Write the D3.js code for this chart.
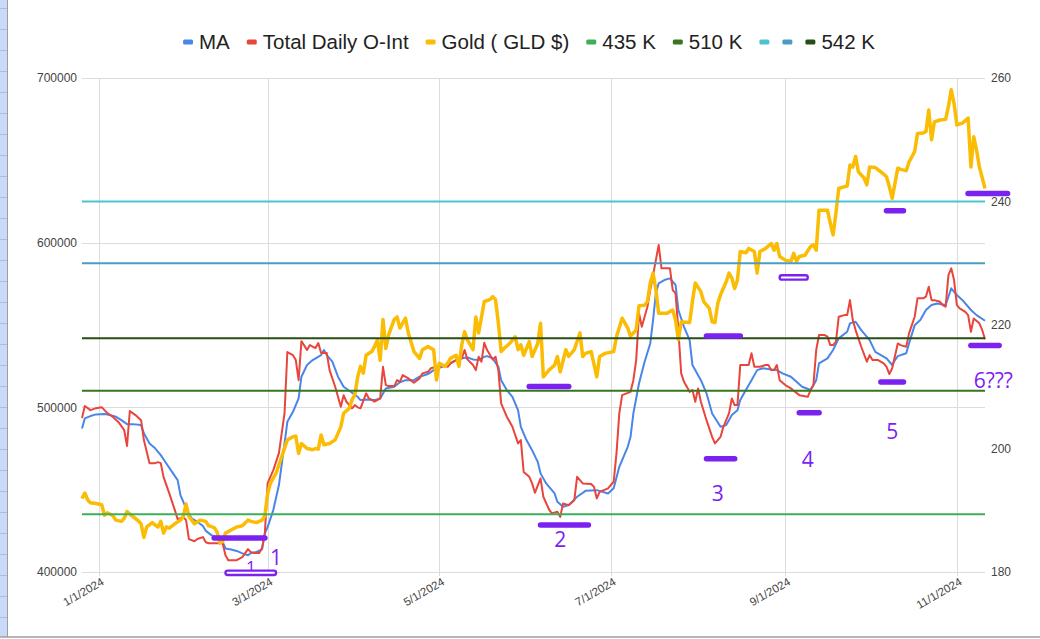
<!DOCTYPE html>
<html>
<head>
<meta charset="utf-8">
<script src="https://cdn.jsdelivr.net/npm/d3@7"></script>
<style>
  body { margin: 0; background: #fff; }
  svg { display: block; }
</style>
</head>
<body>
<div id="wrapper"></div>
<script>
// ---- data ----
const openInterest = [
  ["2023-12-26",493500],["2023-12-27",500800],["2023-12-29",498300],["2023-12-31",499500],
  ["2024-01-02",500100],["2024-01-04",496500],["2024-01-06",494100],["2024-01-08",491000],
  ["2024-01-10",486200],["2024-01-11",476500],["2024-01-12",497700],["2024-01-14",495300],
  ["2024-01-16",492200],["2024-01-17",480100],["2024-01-19",466100],["2024-01-21",466100],
  ["2024-01-22",466700],["2024-01-23",466100],["2024-01-24",457600],["2024-01-26",447900],
  ["2024-01-28",437600],["2024-01-29",432100],["2024-01-31",433300],["2024-02-01",431500],
  ["2024-02-02",420000],["2024-02-04",418700],["2024-02-05",420000],["2024-02-07",421200],
  ["2024-02-08",418100],["2024-02-09",417500],["2024-02-12",417500],["2024-02-14",417500],
  ["2024-02-15",410200],["2024-02-16",407200],["2024-02-19",407200],["2024-02-21",409000],
  ["2024-02-23",413900],["2024-02-24",412100],["2024-02-25",411500],["2024-02-27",411500],
  ["2024-02-28",414500],["2024-02-29",423600],["2024-03-01",454000],["2024-03-03",461900],
  ["2024-03-05",472200],["2024-03-07",496500],["2024-03-08",533600],["2024-03-10",531700],
  ["2024-03-11",528700],["2024-03-12",516500],["2024-03-13",540200],["2024-03-15",534800],
  ["2024-03-16",537800],["2024-03-18",536000],["2024-03-19",539000],["2024-03-20",533000],
  ["2024-03-22",533000],["2024-03-23",522600],["2024-03-25",512500],["2024-03-27",500300],
  ["2024-03-28",507400],["2024-03-29",503400],["2024-03-31",499400],["2024-04-01",501400],
  ["2024-04-02",500000],["2024-04-03",499400],["2024-04-05",508500],["2024-04-06",505400],
  ["2024-04-08",503400],["2024-04-10",505400],["2024-04-11",524600],["2024-04-12",513500],
  ["2024-04-13",512900],["2024-04-15",512900],["2024-04-16",516500],["2024-04-17",515500],
  ["2024-04-18",519600],["2024-04-20",517600],["2024-04-22",514900],["2024-04-24",517600],
  ["2024-04-25",520600],["2024-04-27",521600],["2024-04-28",523700],["2024-04-30",524600],
  ["2024-05-02",525700],["2024-05-04",524600],["2024-05-05",526700],["2024-05-07",528700],
  ["2024-05-09",529700],["2024-05-10",534800],["2024-05-11",529100],["2024-05-13",525700],
  ["2024-05-14",522600],["2024-05-15",530700],["2024-05-16",527700],["2024-05-17",539200],
  ["2024-05-18",534800],["2024-05-20",529100],["2024-05-21",530700],["2024-05-22",522600],
  ["2024-05-23",502400],["2024-05-25",494300],["2024-05-27",488200],["2024-05-29",478100],
  ["2024-05-30",480100],["2024-05-31",460800],["2024-06-02",457800],["2024-06-03",453800],
  ["2024-06-04",448100],["2024-06-06",456800],["2024-06-07",445700],["2024-06-09",438000],
  ["2024-06-10",435600],["2024-06-12",436600],["2024-06-13",433500],["2024-06-14",441600],
  ["2024-06-16",440600],["2024-06-18",443600],["2024-06-19",457800],["2024-06-21",453800],
  ["2024-06-24",453400],["2024-06-25",451700],["2024-06-26",444700],["2024-06-27",448700],
  ["2024-06-30",450800],["2024-07-02",454800],["2024-07-03",472000],["2024-07-04",496300],
  ["2024-07-05",507400],["2024-07-08",509400],["2024-07-09",516500],["2024-07-10",528700],
  ["2024-07-11",557100],["2024-07-12",548900],["2024-07-13",555000],["2024-07-14",561100],
  ["2024-07-15",571200],["2024-07-17",589400],["2024-07-18",598600],["2024-07-19",584400],
  ["2024-07-21",584400],["2024-07-22",584400],["2024-07-23",571200],["2024-07-24",569200],
  ["2024-07-25",546900],["2024-07-26",520600],["2024-07-27",515500],["2024-07-29",509400],
  ["2024-07-30",510500],["2024-07-31",503400],["2024-08-01",511500],["2024-08-02",503400],
  ["2024-08-04",492200],["2024-08-06",482100],["2024-08-07",478100],["2024-08-09",482100],
  ["2024-08-10",488200],["2024-08-12",496300],["2024-08-13",505400],["2024-08-14",501400],
  ["2024-08-15",501400],["2024-08-16",525700],["2024-08-18",525700],["2024-08-19",525700],
  ["2024-08-20",532800],["2024-08-21",524600],["2024-08-23",524600],["2024-08-25",525700],
  ["2024-08-26",525700],["2024-08-27",522600],["2024-08-28",522600],["2024-08-29",525700],
  ["2024-08-30",516500],["2024-09-01",513500],["2024-09-03",511500],["2024-09-04",510100],
  ["2024-09-06",507400],["2024-09-09",506400],["2024-09-10",510500],["2024-09-11",513500],
  ["2024-09-12",534800],["2024-09-13",543900],["2024-09-15",543900],["2024-09-16",542900],
  ["2024-09-17",537800],["2024-09-18",537800],["2024-09-19",539800],["2024-09-20",555000],
  ["2024-09-22",556000],["2024-09-23",556000],["2024-09-24",565100],["2024-09-25",553000],
  ["2024-09-26",546900],["2024-09-28",536800],["2024-09-30",527700],["2024-10-01",531700],
  ["2024-10-02",528700],["2024-10-04",528700],["2024-10-06",526700],["2024-10-07",524600],
  ["2024-10-08",520200],["2024-10-09",523700],["2024-10-11",538800],["2024-10-12",537800],
  ["2024-10-14",536800],["2024-10-15",544900],["2024-10-17",555000],["2024-10-18",566200],
  ["2024-10-20",566200],["2024-10-21",567200],["2024-10-22",573200],["2024-10-23",565100],
  ["2024-10-24",565100],["2024-10-26",564100],["2024-10-27",562100],["2024-10-28",561100],
  ["2024-10-29",580300],["2024-10-30",584400],["2024-10-31",577300],["2024-11-01",562100],
  ["2024-11-02",560100],["2024-11-04",558000],["2024-11-05",556000],["2024-11-06",545900],
  ["2024-11-07",554000],["2024-11-09",551000],["2024-11-10",547000],["2024-11-11",541300]
];

const movingAvg = [
  ["2023-12-26",487200],["2023-12-27",493300],["2023-12-29",494700],["2023-12-31",495700],
  ["2024-01-03",495900],["2024-01-05",495300],["2024-01-07",494300],["2024-01-09",492200],
  ["2024-01-11",489800],["2024-01-13",489800],["2024-01-16",489200],["2024-01-17",484200],
  ["2024-01-19",478100],["2024-01-21",475100],["2024-01-23",471000],["2024-01-25",465900],
  ["2024-01-27",460800],["2024-01-29",455800],["2024-01-30",446700],["2024-02-01",438600],
  ["2024-02-03",432500],["2024-02-05",430500],["2024-02-07",427900],["2024-02-08",425000],
  ["2024-02-10",422400],["2024-02-12",421000],["2024-02-14",418300],["2024-02-15",414300],
  ["2024-02-17",413700],["2024-02-19",412800],["2024-02-21",411300],["2024-02-23",410200],
  ["2024-02-24",411600],["2024-02-26",412200],["2024-02-28",413700],["2024-02-29",423400],
  ["2024-03-01",427400],["2024-03-03",437600],["2024-03-05",452800],["2024-03-07",478100],
  ["2024-03-08",491200],["2024-03-10",497300],["2024-03-12",505400],["2024-03-13",518600],
  ["2024-03-15",525700],["2024-03-17",528700],["2024-03-20",531700],["2024-03-21",534800],
  ["2024-03-22",531700],["2024-03-23",529700],["2024-03-24",527700],["2024-03-26",518600],
  ["2024-03-28",512500],["2024-03-30",510100],["2024-04-02",506400],["2024-04-03",504400],
  ["2024-04-05",504800],["2024-04-08",504400],["2024-04-10",505400],["2024-04-12",511500],
  ["2024-04-15",512500],["2024-04-17",515200],["2024-04-19",516500],["2024-04-22",516500],
  ["2024-04-24",518600],["2024-04-27",520200],["2024-04-29",522600],["2024-05-01",524000],
  ["2024-05-04",525700],["2024-05-06",527700],["2024-05-08",529700],["2024-05-11",530300],
  ["2024-05-13",529100],["2024-05-15",528700],["2024-05-17",530700],["2024-05-18",531100],
  ["2024-05-20",529700],["2024-05-22",524600],["2024-05-23",516500],["2024-05-25",510500],
  ["2024-05-27",506400],["2024-05-29",498300],["2024-05-30",488200],["2024-06-01",480100],
  ["2024-06-03",474000],["2024-06-05",466900],["2024-06-06",459900],["2024-06-08",453800],
  ["2024-06-11",447700],["2024-06-12",442600],["2024-06-14",439600],["2024-06-16",440600],
  ["2024-06-19",445700],["2024-06-22",449300],["2024-06-26",449700],["2024-06-30",447700],
  ["2024-07-02",450800],["2024-07-04",463900],["2024-07-07",476000],["2024-07-08",482100],
  ["2024-07-09",496300],["2024-07-11",514500],["2024-07-13",527700],["2024-07-15",538800],
  ["2024-07-16",553000],["2024-07-17",569200],["2024-07-18",575300],["2024-07-20",577300],
  ["2024-07-22",578300],["2024-07-24",574300],["2024-07-25",559100],["2024-07-27",548900],
  ["2024-07-29",540800],["2024-07-30",525700],["2024-08-02",516500],["2024-08-04",508500],
  ["2024-08-06",496300],["2024-08-09",488200],["2024-08-11",489200],["2024-08-13",495300],
  ["2024-08-15",498300],["2024-08-16",504400],["2024-08-18",510500],["2024-08-20",516500],
  ["2024-08-22",522600],["2024-08-24",523700],["2024-08-27",523000],["2024-08-29",522600],
  ["2024-08-31",520600],["2024-09-03",518600],["2024-09-05",515500],["2024-09-07",512500],
  ["2024-09-10",510500],["2024-09-12",516500],["2024-09-13",526700],["2024-09-16",529700],
  ["2024-09-18",534800],["2024-09-20",541900],["2024-09-23",545900],["2024-09-24",551000],
  ["2024-09-26",552000],["2024-09-28",546900],["2024-10-01",540800],["2024-10-03",533700],
  ["2024-10-05",531700],["2024-10-07",529700],["2024-10-09",525700],["2024-10-10",528700],
  ["2024-10-11",531100],["2024-10-14",532800],["2024-10-15",538800],["2024-10-17",549900],
  ["2024-10-19",553000],["2024-10-21",559100],["2024-10-23",562100],["2024-10-25",563100],
  ["2024-10-28",562100],["2024-10-30",572300],["2024-11-01",568200],["2024-11-03",565100],
  ["2024-11-06",559100],["2024-11-08",556000],["2024-11-11",552600]
];

const goldPrice = [
  ["2023-12-26",191.9],["2023-12-27",192.8],["2023-12-28",191.7],["2023-12-29",191.2],
  ["2023-12-31",191.1],["2024-01-02",190.9],["2024-01-03",189.2],["2024-01-04",189.6],
  ["2024-01-06",189.1],["2024-01-07",188.4],["2024-01-09",188.2],["2024-01-10",188.7],
  ["2024-01-11",189.8],["2024-01-13",189.0],["2024-01-15",188.3],["2024-01-16",187.8],
  ["2024-01-17",185.6],["2024-01-18",187.3],["2024-01-20",188.0],["2024-01-21",187.6],
  ["2024-01-22",187.3],["2024-01-23",188.2],["2024-01-24",186.3],["2024-01-25",187.3],
  ["2024-01-26",187.1],["2024-01-28",187.8],["2024-01-30",188.4],["2024-01-31",189.0],
  ["2024-02-01",191.0],["2024-02-02",189.0],["2024-02-03",188.4],["2024-02-04",187.8],
  ["2024-02-06",188.4],["2024-02-08",188.2],["2024-02-09",187.5],["2024-02-11",187.2],
  ["2024-02-12",186.5],["2024-02-13",184.7],["2024-02-14",184.9],["2024-02-15",186.3],
  ["2024-02-17",186.8],["2024-02-19",187.3],["2024-02-21",187.5],["2024-02-23",188.4],
  ["2024-02-24",188.2],["2024-02-26",188.0],["2024-02-28",188.4],["2024-02-29",189.1],
  ["2024-03-01",192.7],["2024-03-02",194.4],["2024-03-04",196.0],["2024-03-06",198.7],
  ["2024-03-08",201.4],["2024-03-10",201.9],["2024-03-11",202.0],["2024-03-12",199.2],
  ["2024-03-13",200.8],["2024-03-15",200.0],["2024-03-17",199.8],["2024-03-18",200.0],
  ["2024-03-19",199.9],["2024-03-20",202.2],["2024-03-21",200.6],["2024-03-23",200.8],
  ["2024-03-25",201.4],["2024-03-27",203.5],["2024-03-28",205.7],["2024-03-30",206.5],
  ["2024-03-31",207.9],["2024-04-01",208.7],["2024-04-02",211.6],["2024-04-03",213.3],
  ["2024-04-04",212.2],["2024-04-05",215.1],["2024-04-07",215.7],["2024-04-08",216.5],
  ["2024-04-09",217.6],["2024-04-10",214.3],["2024-04-11",220.9],["2024-04-12",216.2],
  ["2024-04-13",218.4],["2024-04-15",220.9],["2024-04-16",221.3],["2024-04-17",219.5],
  ["2024-04-19",221.1],["2024-04-20",218.7],["2024-04-22",215.7],["2024-04-24",214.6],
  ["2024-04-25",216.0],["2024-04-27",216.5],["2024-04-29",216.0],["2024-04-30",211.1],
  ["2024-05-01",213.8],["2024-05-03",213.3],["2024-05-04",213.8],["2024-05-05",214.6],
  ["2024-05-07",215.1],["2024-05-08",213.3],["2024-05-09",216.8],["2024-05-10",218.9],
  ["2024-05-11",217.6],["2024-05-13",216.0],["2024-05-14",221.3],["2024-05-15",218.7],
  ["2024-05-17",223.8],["2024-05-19",224.1],["2024-05-20",224.6],["2024-05-21",224.1],
  ["2024-05-22",220.3],["2024-05-23",215.7],["2024-05-24",216.2],["2024-05-26",217.0],
  ["2024-05-28",218.1],["2024-05-29",216.0],["2024-05-30",216.8],["2024-05-31",215.1],
  ["2024-06-02",217.3],["2024-06-03",214.9],["2024-06-05",217.0],["2024-06-06",220.3],
  ["2024-06-07",211.6],["2024-06-09",212.7],["2024-06-11",213.5],["2024-06-12",214.9],
  ["2024-06-13",212.4],["2024-06-15",216.0],["2024-06-16",214.9],["2024-06-18",216.0],
  ["2024-06-20",218.7],["2024-06-21",214.9],["2024-06-22",215.4],["2024-06-24",215.7],
  ["2024-06-26",211.6],["2024-06-27",214.9],["2024-06-29",215.4],["2024-07-02",215.7],
  ["2024-07-03",218.1],["2024-07-05",221.1],["2024-07-07",219.5],["2024-07-08",218.2],
  ["2024-07-10",219.2],["2024-07-11",223.1],["2024-07-13",223.2],["2024-07-14",223.8],
  ["2024-07-15",226.8],["2024-07-16",228.4],["2024-07-17",225.7],["2024-07-18",221.9],
  ["2024-07-21",221.9],["2024-07-22",222.2],["2024-07-23",222.4],["2024-07-24",220.8],
  ["2024-07-25",217.6],["2024-07-26",220.5],["2024-07-29",220.4],["2024-07-30",223.8],
  ["2024-07-31",226.8],["2024-08-02",225.4],["2024-08-03",223.8],["2024-08-05",222.7],
  ["2024-08-06",220.5],["2024-08-07",220.4],["2024-08-08",223.5],["2024-08-09",224.9],
  ["2024-08-11",227.0],["2024-08-12",228.4],["2024-08-13",227.6],["2024-08-14",225.9],
  ["2024-08-15",227.3],["2024-08-16",231.9],["2024-08-18",231.7],["2024-08-19",232.4],
  ["2024-08-21",231.9],["2024-08-22",228.4],["2024-08-23",231.9],["2024-08-25",232.4],
  ["2024-08-27",233.2],["2024-08-28",232.1],["2024-08-29",233.2],["2024-08-30",231.1],
  ["2024-09-01",230.5],["2024-09-03",230.3],["2024-09-04",231.6],["2024-09-05",230.3],
  ["2024-09-06",231.1],["2024-09-08",231.3],["2024-09-10",232.7],["2024-09-11",233.0],
  ["2024-09-12",232.1],["2024-09-13",238.6],["2024-09-15",238.6],["2024-09-16",238.6],
  ["2024-09-17",236.5],["2024-09-18",234.6],["2024-09-19",238.1],["2024-09-20",242.1],
  ["2024-09-22",242.4],["2024-09-23",242.5],["2024-09-24",245.9],["2024-09-25",245.6],
  ["2024-09-26",247.3],["2024-09-27",244.8],["2024-09-29",243.8],["2024-09-30",242.7],
  ["2024-10-01",245.6],["2024-10-03",245.5],["2024-10-05",244.8],["2024-10-07",244.0],
  ["2024-10-08",242.4],["2024-10-09",240.5],["2024-10-11",245.4],["2024-10-12",245.2],
  ["2024-10-14",245.0],["2024-10-15",246.4],["2024-10-17",248.1],["2024-10-18",251.0],
  ["2024-10-20",251.1],["2024-10-21",251.3],["2024-10-22",254.8],["2024-10-23",250.0],
  ["2024-10-24",252.9],["2024-10-26",253.2],["2024-10-28",253.3],["2024-10-29",255.4],
  ["2024-10-30",258.1],["2024-10-31",255.9],["2024-11-01",252.4],["2024-11-03",252.7],
  ["2024-11-05",253.5],["2024-11-06",245.6],["2024-11-07",250.5],["2024-11-08",248.3],
  ["2024-11-09",245.6],["2024-11-11",242.1]
];

// constant reference series (blank names are blank in the legend too)
const refNames = ["435 K", "510 K", "", "", "542 K"];
const refValues = [435000, 510000, 240, 230, 542000];
const refAxis = ["left", "left", "right", "right", "left"];

const legendNames = ["MA", "Total Daily O-Int", "Gold ( GLD $)", "435 K", "510 K", "", "", "542 K"];

const leftTicks = [400000, 500000, 600000, 700000];
const rightTicks = [180, 200, 220, 240, 260];
const dateTicks = ["2024-01-01", "2024-03-01", "2024-05-01", "2024-07-01", "2024-09-01", "2024-11-01"];
const dateRange = ["2023-12-26", "2024-11-11"];

// hand-drawn purple marks: [from, to, left-axis value, hollow?]
const markBars = [
  ["2024-02-10", "2024-03-01", 420600, false],
  ["2024-02-15", "2024-03-04", 399500, true],
  ["2024-06-01", "2024-06-17", 512600, false],
  ["2024-06-05", "2024-06-24", 428500, false],
  ["2024-08-03", "2024-08-17", 543300, false],
  ["2024-08-03", "2024-08-15", 468700, false],
  ["2024-08-30", "2024-09-09", 578900, true],
  ["2024-09-05", "2024-09-14", 496700, false],
  ["2024-10-06", "2024-10-14", 619400, false],
  ["2024-10-04", "2024-10-14", 515400, false],
  ["2024-11-04", "2024-11-20", 629900, false],
  ["2024-11-05", "2024-11-17", 537500, false]
];
// [date, left-axis value, text, size]
const markNotes = [
  ["2024-02-24", 403000, "1", 17],
  ["2024-03-04", 409000, "1", 21],
  ["2024-06-13", 420000, "2", 21],
  ["2024-08-08", 447900, "3", 21],
  ["2024-09-09", 468600, "4", 21],
  ["2024-10-09", 485600, "5", 21],
  ["2024-11-07", 516500, "6???", 21]
];

const colors = {
  ma: "#4a86e8",
  oi: "#e8453c",
  gold: "#fbbc04",
  refs: ["#3fae5a", "#38761d", "#4dc3d1", "#4b9cc4", "#274e13"],
  mark: "#7c22f0",
  grid: "#dcdcdc",
  axisText: "#444"
};

function drawChart() {
  const parseDate = d3.timeParse("%Y-%m-%d");

  let dimensions = {
    width: 1040,
    height: 639,
    margin: { top: 78, right: 55, bottom: 67, left: 82 }
  };
  dimensions.boundedWidth = dimensions.width - dimensions.margin.left - dimensions.margin.right;
  dimensions.boundedHeight = dimensions.height - dimensions.margin.top - dimensions.margin.bottom;

  const wrapper = d3.select("#wrapper")
    .append("svg")
      .attr("width", dimensions.width)
      .attr("height", dimensions.height)
      .style("font-family", "Arial, 'Liberation Sans', sans-serif");

  wrapper.append("rect")
    .attr("width", dimensions.width)
    .attr("height", dimensions.height)
    .attr("fill", "#fff");

  // spreadsheet edge peeking in at left / bottom
  const edge = wrapper.append("g");
  edge.append("rect").attr("x", 0).attr("y", 0).attr("width", 7).attr("height", 637).attr("fill", "#c9daf8");
  edge.selectAll("line.row")
    .data(d3.range(8, 637, 21))
    .enter().append("line")
      .attr("x1", 0).attr("x2", 7)
      .attr("y1", d => d + 0.5).attr("y2", d => d + 0.5)
      .attr("stroke", "#a9bde3");
  edge.append("line").attr("x1", 7.5).attr("x2", 7.5).attr("y1", 0).attr("y2", 637)
    .attr("stroke", "#9e9e9e");
  edge.append("line").attr("x1", 0).attr("x2", dimensions.width).attr("y1", 637).attr("y2", 637)
    .attr("stroke", "#9e9e9e").attr("stroke-width", 1.5);

  const bounds = wrapper.append("g")
    .attr("transform", `translate(${dimensions.margin.left},${dimensions.margin.top})`);

  const xScaler = d3.scaleTime()
    .domain(dateRange.map(parseDate))
    .range([0, dimensions.boundedWidth]);
  const yLeft = d3.scaleLinear()
    .domain([400000, 700000])
    .range([dimensions.boundedHeight, 0]);
  const yRight = d3.scaleLinear()
    .domain([180, 260])
    .range([dimensions.boundedHeight, 0]);

  // gridlines
  bounds.append("g").selectAll("line")
    .data(leftTicks)
    .enter().append("line")
      .attr("x1", 0).attr("x2", dimensions.boundedWidth)
      .attr("y1", d => Math.round(yLeft(d)) + 0.5)
      .attr("y2", d => Math.round(yLeft(d)) + 0.5)
      .attr("stroke", colors.grid);
  bounds.append("g").selectAll("line")
    .data(dateTicks)
    .enter().append("line")
      .attr("x1", d => Math.round(xScaler(parseDate(d))) + 0.5)
      .attr("x2", d => Math.round(xScaler(parseDate(d))) + 0.5)
      .attr("y1", 0).attr("y2", dimensions.boundedHeight + 4)
      .attr("stroke", colors.grid);

  // axes
  const leftAxis = bounds.append("g")
    .call(d3.axisLeft(yLeft).tickValues(leftTicks).tickSize(0).tickPadding(5).tickFormat(d3.format("d")));
  const rightAxis = bounds.append("g")
    .attr("transform", `translate(${dimensions.boundedWidth},0)`)
    .call(d3.axisRight(yRight).tickValues(rightTicks).tickSize(0).tickPadding(6));
  [leftAxis, rightAxis].forEach(ax => {
    ax.select(".domain").remove();
    ax.selectAll("text")
      .attr("fill", colors.axisText)
      .attr("font-size", "12px")
      .attr("font-family", "Arial, 'Liberation Sans', sans-serif");
  });

  const fmtDate = d3.timeFormat("%-m/%-d/%Y");
  bounds.append("g").selectAll("text")
    .data(dateTicks)
    .enter().append("text")
      .attr("transform", d => `translate(${xScaler(parseDate(d)) + 6},${dimensions.boundedHeight + 12}) rotate(-30)`)
      .attr("text-anchor", "end")
      .attr("fill", colors.axisText)
      .attr("font-size", "11.5px")
      .text(d => fmtDate(parseDate(d)));

  // series, in sheet order
  const leftLine = d3.line()
    .x(d => xScaler(parseDate(d[0])))
    .y(d => yLeft(d[1]));
  const rightLine = d3.line()
    .x(d => xScaler(parseDate(d[0])))
    .y(d => yRight(d[1]));

  bounds.append("path")
    .datum(movingAvg)
    .attr("d", leftLine)
    .attr("fill", "none")
    .attr("stroke", colors.ma)
    .attr("stroke-width", 2)
    .attr("stroke-linejoin", "round");

  bounds.append("path")
    .datum(openInterest)
    .attr("d", leftLine)
    .attr("fill", "none")
    .attr("stroke", colors.oi)
    .attr("stroke-width", 2)
    .attr("stroke-linejoin", "round");

  bounds.append("path")
    .datum(goldPrice)
    .attr("d", rightLine)
    .attr("fill", "none")
    .attr("stroke", colors.gold)
    .attr("stroke-width", 3.5)
    .attr("stroke-linejoin", "round");

  bounds.append("g").selectAll("line")
    .data(refValues)
    .enter().append("line")
      .attr("x1", 0).attr("x2", dimensions.boundedWidth)
      .attr("y1", (d, i) => (refAxis[i] === "left" ? yLeft(d) : yRight(d)))
      .attr("y2", (d, i) => (refAxis[i] === "left" ? yLeft(d) : yRight(d)))
      .attr("stroke", (d, i) => colors.refs[i])
      .attr("stroke-width", 2);

  // legend
  const legendColors = [colors.ma, colors.oi, colors.gold].concat(colors.refs);
  const legend = wrapper.append("g");
  let cursor = 0;
  legendNames.forEach((name, i) => {
    const item = legend.append("g").attr("transform", `translate(${cursor},0)`);
    item.append("rect")
      .attr("x", 0).attr("y", -2.5)
      .attr("width", 10).attr("height", 5).attr("rx", 1.5)
      .attr("fill", legendColors[i]);
    if (name) {
      const t = item.append("text")
        .attr("x", 16).attr("dy", "0.36em")
        .attr("fill", "#222")
        .attr("font-size", "20.5px")
        .text(name);
      cursor += 16 + t.node().getComputedTextLength() + 17;
    } else {
      cursor += 10 + 13;
    }
  });
  const legendWidth = cursor - 17;
  legend.attr("transform", `translate(${529 - legendWidth / 2},42)`);

  // purple hand-drawn marks
  const marks = bounds.append("g");
  marks.selectAll("text")
    .data(markNotes)
    .enter().append("text")
      .attr("x", d => xScaler(parseDate(d[0])))
      .attr("y", d => yLeft(d[1]))
      .attr("dy", "0.36em")
      .attr("text-anchor", d => (d[2].length > 1 ? "start" : "middle"))
      .attr("font-family", "'Open Sans', 'DejaVu Sans', sans-serif")
      .attr("font-size", d => d[3] + "px")
      .attr("fill", colors.mark)
      .text(d => d[2]);

  marks.selectAll("rect")
    .data(markBars)
    .enter().append("rect")
      .attr("x", d => xScaler(parseDate(d[0])))
      .attr("width", d => xScaler(parseDate(d[1])) - xScaler(parseDate(d[0])))
      .attr("y", d => yLeft(d[2]) - (d[3] ? 2.2 : 2.75))
      .attr("height", d => (d[3] ? 4.4 : 5.5))
      .attr("rx", d => (d[3] ? 2.2 : 2.75))
      .attr("fill", d => (d[3] ? "#fff" : colors.mark))
      .attr("stroke", d => (d[3] ? colors.mark : "none"))
      .attr("stroke-width", 2.4);
}

drawChart();
</script>
</body>
</html>
